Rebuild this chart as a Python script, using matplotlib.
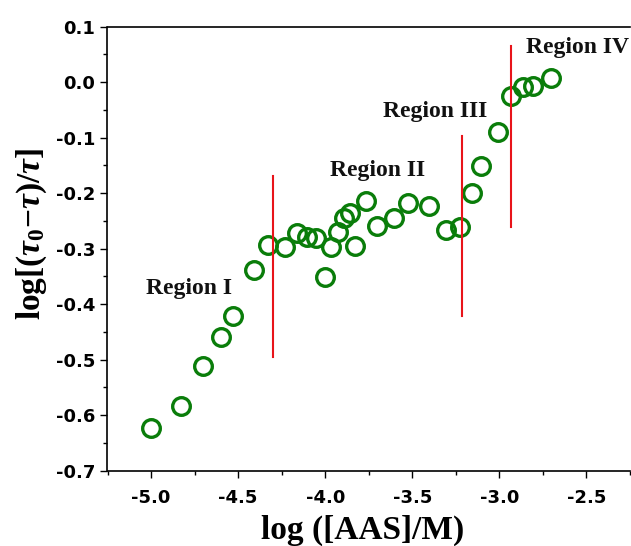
import matplotlib
matplotlib.use("Agg")
import matplotlib.pyplot as plt
from matplotlib.ticker import MultipleLocator, FormatStrFormatter

# ---- data ----
log_conc = [-5.00, -4.83, -4.70, -4.60, -4.53, -4.41, -4.33, -4.23, -4.16, -4.105,
            -4.055, -4.00, -3.965, -3.927, -3.894, -3.86, -3.831, -3.764, -3.703, -3.607,
            -3.525, -3.404, -3.308, -3.228, -3.16, -3.103, -3.007, -2.936, -2.867, -2.806,
            -2.701]
log_ratio = [-0.624, -0.584, -0.512, -0.459, -0.421, -0.339, -0.294, -0.298, -0.271, -0.279,
             -0.280, -0.351, -0.298, -0.270, -0.245, -0.236, -0.295, -0.215, -0.259, -0.244,
             -0.218, -0.223, -0.266, -0.261, -0.200, -0.152, -0.089, -0.025, -0.008, -0.007,
             0.007]

# boundary lines: x, y_bottom, y_top
boundary_x = [-4.30, -3.212, -2.935]
boundary_ylo = [-0.495, -0.421, -0.261]
boundary_yhi = [-0.169, -0.097, 0.065]

region_labels = ["Region I", "Region II", "Region III", "Region IV"]
region_x = [-4.784, -3.70, -3.371, -2.845]
region_y = [-0.381, -0.170, -0.062, 0.053]
region_ha = ["center", "center", "center", "left"]

plt.rcParams['mathtext.fontset'] = 'custom'
plt.rcParams['mathtext.rm'] = 'Liberation Serif:bold'
plt.rcParams['mathtext.it'] = 'Liberation Serif:italic:bold'
plt.rcParams['mathtext.bf'] = 'Liberation Serif:bold'

fig = plt.figure(figsize=(6.31, 5.46), dpi=100)
ax = fig.add_axes([107.5/631, (546-470.5)/546, (630-107.5)/631, (470.5-26.7)/546])

ax.plot(log_conc, log_ratio, linestyle='none', marker='o', markersize=12.7,
        markerfacecolor='none', markeredgecolor='#0a7d0a', markeredgewidth=2.4, zorder=3,
        clip_on=False)

for bx, lo, hi in zip(boundary_x, boundary_ylo, boundary_yhi):
    ax.plot([bx, bx], [lo, hi], color='#e8141a', linewidth=1.5, zorder=4)

for lab, tx, ty, ha in zip(region_labels, region_x, region_y, region_ha):
    ax.text(tx, ty, lab, ha=ha, va='baseline', fontsize=17, fontweight='bold',
            family='Liberation Serif', color='#111111', clip_on=False)

ax.set_xlim(-5.25, -2.25)
ax.set_ylim(-0.7, 0.1)
ax.xaxis.set_major_locator(MultipleLocator(0.5))
ax.xaxis.set_minor_locator(MultipleLocator(0.25))
ax.yaxis.set_major_locator(MultipleLocator(0.1))
ax.yaxis.set_minor_locator(MultipleLocator(0.05))
ax.xaxis.set_major_formatter(FormatStrFormatter('%.1f'))
ax.yaxis.set_major_formatter(FormatStrFormatter('%.1f'))

ax.spines['right'].set_visible(False)
for s in ['left', 'bottom', 'top']:
    ax.spines[s].set_linewidth(1.2)
ax.tick_params(which='major', direction='out', length=5, width=1.0, top=False, right=False)
ax.tick_params(which='minor', direction='out', length=3, width=1.0, top=False, right=False)
ax.tick_params(axis='x', which='major', pad=8)
ax.tick_params(axis='y', which='major', pad=4)
for lbl in ax.get_xticklabels() + ax.get_yticklabels():
    lbl.set_fontfamily('DejaVu Sans')
    lbl.set_fontweight('bold')
    lbl.set_fontsize(13)

fig.text(363/631, (546-538.5)/546, 'log ([AAS]/M)', ha='center', va='baseline',
         fontsize=24, fontweight='bold', family='Liberation Serif')
fig.text(32/631, (546-234)/546, r'$\mathrm{log[(}\tau_{0}\mathrm{-}\tau\mathrm{)/}\tau\mathrm{]}$',
         rotation=90, ha='center', va='center', fontsize=24)

fig.savefig('out.png', dpi=100)
